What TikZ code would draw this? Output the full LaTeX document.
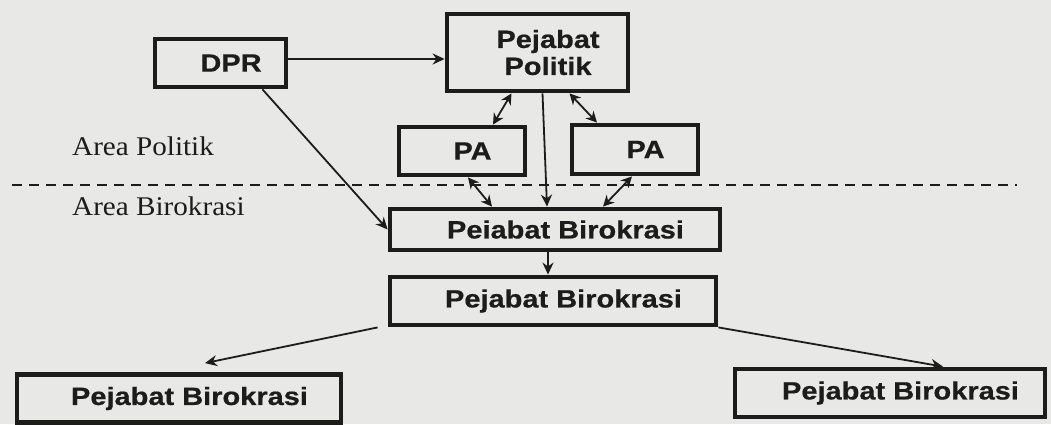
\documentclass[tikz,border=0pt]{standalone}
\usepackage{fontspec}
\newfontfamily\boxsans{Liberation Sans}[FakeStretch=1.16,BoldFeatures={FakeBold=0.6}]
\newfontfamily\areaserif{Liberation Serif}[FakeStretch=1.08]
\usetikzlibrary{arrows.meta,calc}
\definecolor{ink}{RGB}{28,28,28}
\definecolor{paper}{RGB}{232,232,230}
\newcommand{\rsh}{\hspace*{21pt}}
\begin{document}
\begin{tikzpicture}[x=1pt,y=-1pt,
 box/.style={draw=ink,line width=4.8pt,fill=paper,inner sep=0pt,align=center,text=ink,font=\boxsans\bfseries\fontsize{25}{27}\selectfont},
 arr/.style={draw=ink,line width=1.8pt,-{Stealth[length=12pt,width=11pt]}},
 darr/.style={draw=ink,line width=1.8pt,{Stealth[length=11pt,width=11pt]}-{Stealth[length=11pt,width=11pt]}},
 area/.style={anchor=west,inner sep=0pt,text=ink,font=\areaserif\fontsize{27}{29}\selectfont},
 divider/.style={draw=ink,line width=2.2pt,dash pattern=on 10pt off 7pt}]
\fill[paper] (0,0) rectangle (1051,424);
\useasboundingbox (0,0) rectangle (1051,424);
% area labels and divider
\node[area] (ap) at (72,146) {Area Politik};
\node[area] (ab) at (72,206) {Area Birokrasi};
\coordinate (dl) at (12,185);
\coordinate (dr) at (1017,185);
\draw[divider] (dl) -- (dr);
% boxes
\node[box,minimum width=131,minimum height=48] (dpr) at (220.5,63) {\rsh DPR};
\node[box,minimum width=181,minimum height=77] (pol) at (537.5,52.5) {\rsh Pejabat\\\rsh Politik};
\node[box,minimum width=126,minimum height=48] (pal) at (462,151) {\rsh PA};
\node[box,minimum width=126,minimum height=49] (par) at (635,149.5) {\rsh PA};
\node[box,minimum width=330,minimum height=41] (b1) at (555,229.5) {\rsh Peiabat Birokrasi};
\node[box,minimum width=326,minimum height=48] (b2) at (553,301) {\rsh Pejabat Birokrasi};
\node[box,minimum width=324,minimum height=48] (b3) at (179,398.5) {\rsh Pejabat Birokrasi};
\node[box,minimum width=310,minimum height=48] (b4) at (890,393) {\rsh Pejabat Birokrasi};
% connectors
\draw[arr] ([yshift=4]dpr.east) -- ([yshift=4]dpr.east -| pol.west);
\draw[arr] ([xshift=42]dpr.south) -- (b1.west);
\draw[arr] ([xshift=5]pol.south) -- ([xshift=-8]b1.north);
\draw[darr] ([xshift=31]pal.north) -- ([xshift=-26]pol.south);
\draw[darr] ([xshift=6]pal.south) -- ([xshift=-63]b1.north);
\draw[darr] ([xshift=-38]par.north) -- ([xshift=32]pol.south);
\draw[darr] ([xshift=-3]par.south) -- ([xshift=48]b1.north);
\draw[arr] ([xshift=-7]b1.south) -- ([xshift=-5]b2.north);
\draw[arr] ([xshift=-10]b2.south west) -- ([xshift=26,yshift=9]b3.north);
\draw[arr] (b2.south east) -- ([xshift=53]b4.north);
\end{tikzpicture}
\end{document}
